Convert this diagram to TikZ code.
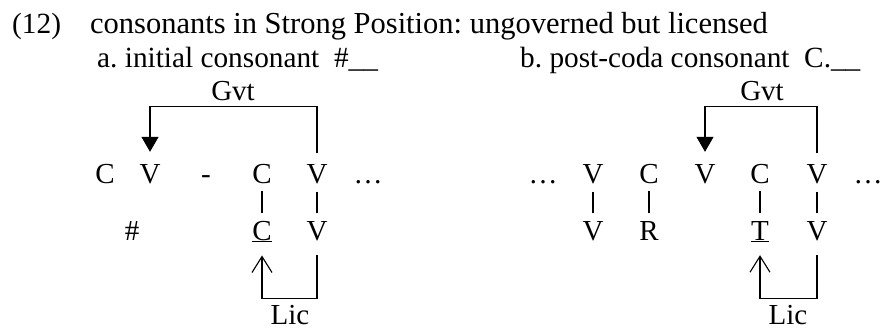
\documentclass[tikz,border=0pt]{standalone}
\usepackage{fontspec}
\setmainfont{Liberation Serif}
\usetikzlibrary{arrows.meta}
\frenchspacing
\tikzset{
  txt/.style={inner sep=0pt, font=\fontsize{29}{34}\selectfont},
  heading/.style={inner sep=0pt, anchor=base west, font=\fontsize{30.5}{36}\selectfont},
  subhead/.style={inner sep=0pt, anchor=base west, font=\fontsize{29.3}{35}\selectfont},
  lbl/.style={txt, anchor=base},
  seg/.style={txt, inner ysep=8pt, anchor=base},
  assoc/.style={line width=1.1pt},
  gvt/.style={line width=1.1pt, -{Triangle[length=15pt,width=17pt]},
    shorten >=4pt, shorten <=3pt},
  lic/.style={line width=1.1pt, -{Straight Barb[length=16pt,width=20pt]},
    shorten >=5pt, shorten <=6pt},
}
\begin{document}
\begin{tikzpicture}[x=1pt,y=-1pt]
\useasboundingbox (0,0) rectangle (881,329);

% headings
\node[subhead] (num)   at (12,34) {(12)};
\node[heading] (title) at (90,34) {consonants in Strong Position: ungoverned but licensed};
\node[subhead] (suba)  at (97,68) {a. initial consonant\ \ \#\textunderscore\textunderscore};
\node[subhead] (subb)  at (520,68) {b. post-coda consonant\ \ C.\textunderscore\textunderscore};

% (a) initial consonant
\node[seg] (aC1)   at (105,183) {C};
\node[seg] (aV1)   at (150,183) {V};
\node[seg] (adash) at (206,183) {-};
\node[seg] (aC2)   at (262,183) {C};
\node[seg] (aV2)   at (317,183) {V};
\node[seg] (adots) at (368,183) {…};
\node[seg] (ahash) at (132,240) {\#};
\node[seg] (aC2b)  at (262,240) {\underline{C}};
\node[seg] (aV2b)  at (317,240) {V};
\node[lbl] (agvt)  at (233,100) {Gvt};
\node[lbl] (alic)  at (290,324) {Lic};

\draw[assoc] (aC2.south) -- (aC2b.north);
\draw[assoc] (aV2.south) -- (aV2b.north);
\draw[gvt] (aV2.north) -- ++(0,-49) -| (aV1.north);
\draw[lic] (aV2b.south) -- ++(0,50) -| (aC2b.south);

% (b) post-coda consonant
\node[seg] (bdots1) at (543,183) {…};
\node[seg] (bV1)    at (593,183) {V};
\node[seg] (bC1)    at (649,183) {C};
\node[seg] (bV2)    at (705,183) {V};
\node[seg] (bC2)    at (760,183) {C};
\node[seg] (bV3)    at (817,183) {V};
\node[seg] (bdots2) at (868,183) {…};
\node[seg] (bV1b)   at (593,240) {V};
\node[seg] (bC1b)   at (649,240) {R};
\node[seg] (bC2b)   at (760,240) {\underline{T}};
\node[seg] (bV3b)   at (817,240) {V};
\node[lbl] (bgvt)   at (762,100) {Gvt};
\node[lbl] (blic)   at (788,324) {Lic};

\draw[assoc] (bV1.south) -- (bV1b.north);
\draw[assoc] (bC1.south) -- (bC1b.north);
\draw[assoc] (bC2.south) -- (bC2b.north);
\draw[assoc] (bV3.south) -- (bV3b.north);
\draw[gvt] (bV3.north) -- ++(0,-49) -| (bV2.north);
\draw[lic] (bV3b.south) -- ++(0,50) -| (bC2b.south);
\end{tikzpicture}
\end{document}
